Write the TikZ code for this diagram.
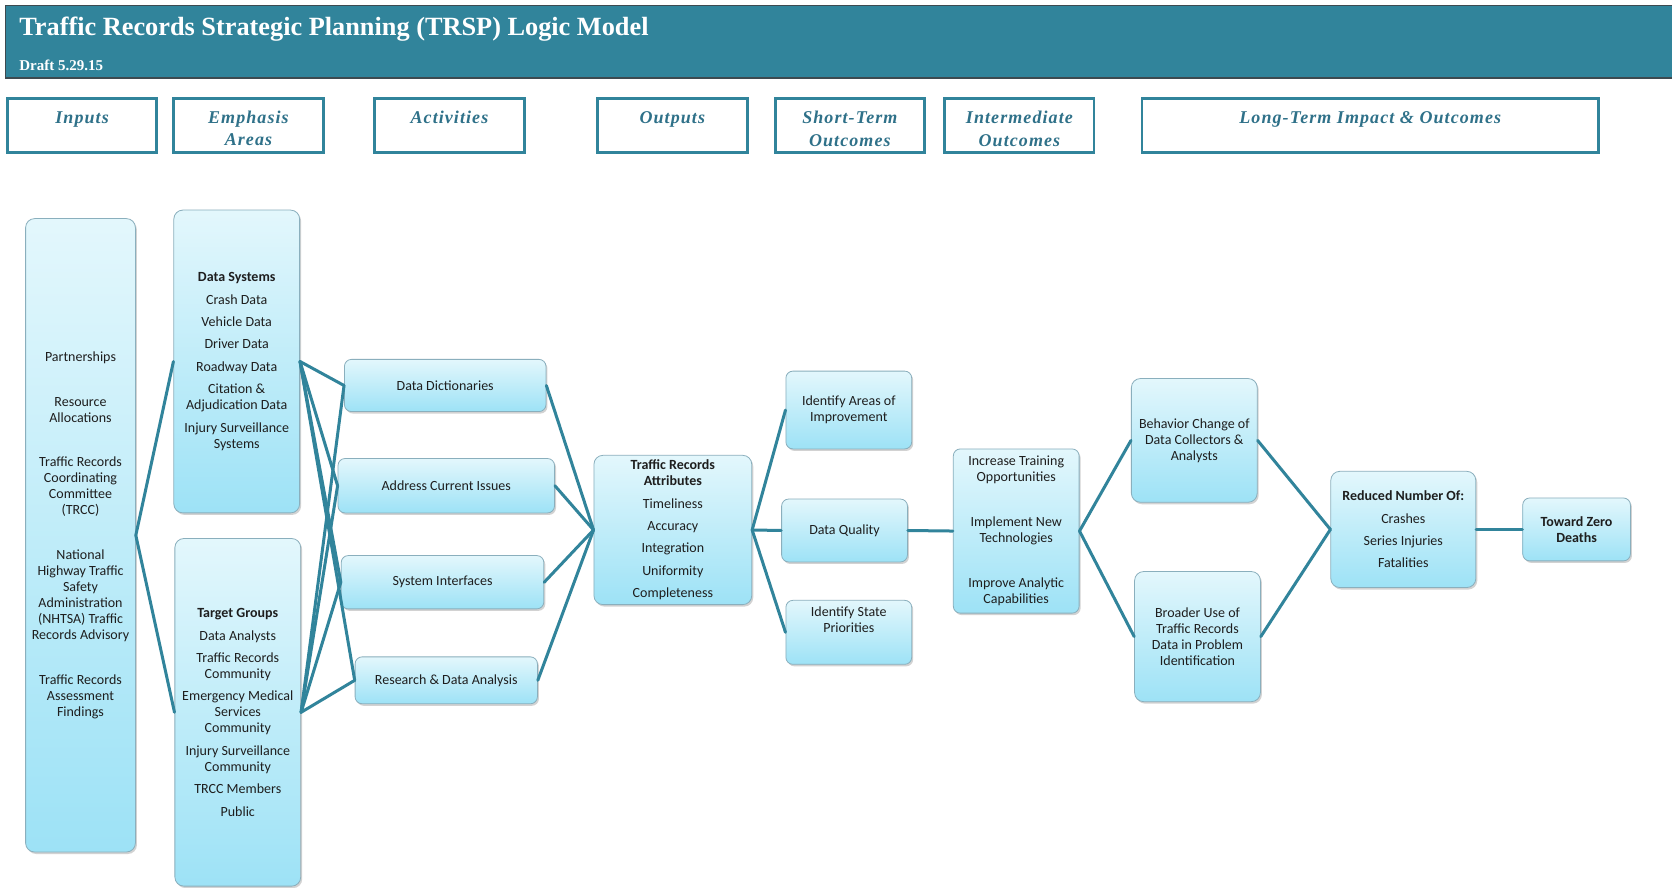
\documentclass[tikz,border=0pt]{standalone}
\usepackage{fontspec}
\setmainfont{Carlito}
\newfontfamily\hdrfont[LetterSpace=6]{Liberation Serif}
\newfontfamily\ttlfont{Liberation Serif}
\usetikzlibrary{shadows}
\definecolor{teal1}{HTML}{31849B}
\definecolor{hdrtext}{HTML}{2F7189}
\definecolor{bandedge}{HTML}{3D4A50}
\definecolor{boxtop}{HTML}{E3F7FC}
\definecolor{boxbot}{HTML}{9DE2F6}
\definecolor{boxedge}{HTML}{8AAFBD}
\definecolor{bodytext}{HTML}{1E1E1E}
\newcommand{\hup}{\rule{0pt}{18.5pt}}
\begin{document}
\begin{tikzpicture}[x=1.0663pt,y=-1.0663pt,
  rbox/.style={rounded corners=7pt, draw=boxedge, line width=0.8pt,
    top color=boxtop, bottom color=boxbot, align=center, inner sep=2pt,
    text=bodytext, font=\fontsize{14}{16}\selectfont,
    drop shadow={opacity=0.35, shadow xshift=1.5pt, shadow yshift=-2pt}},
  hdr/.style={draw=teal1, line width=2.8pt, fill=white, align=center,
    minimum height=54pt, text=hdrtext, inner sep=1pt,
    font=\hdrfont\bfseries\itshape\fontsize{18}{22.4}\selectfont},
  conn/.style={draw=teal1, line width=3pt, line cap=round, line join=round}]
\useasboundingbox (0,0) rectangle (1568,832);
\fill[white] (0,0) rectangle (1568,832);
% banner
\draw[fill=teal1, draw=bandedge, line width=1.5pt] (5,5) rectangle (1572,73);
\node[anchor=base west, text=white, inner sep=0, font=\ttlfont\bfseries\fontsize{26.3}{30}\selectfont] (title) at (18,33) {Traffic Records Strategic Planning (TRSP) Logic Model};
\node[anchor=base west, text=white, inner sep=0, font=\ttlfont\bfseries\fontsize{15}{18}\selectfont] (draft) at (18,66) {Draft 5.29.15};
% headers
\node[hdr, minimum width=149.3pt] (hin) at (77,117.5) {\hup Inputs\\\mbox{}};
\node[hdr, minimum width=149.3pt] (hem) at (233,117.5) {\hup Emphasis\\Areas};
\node[hdr, minimum width=150.3pt] (hac) at (421.5,118) {\hup Activities\\\mbox{}};
\node[hdr, minimum width=150.3pt] (hou) at (630.5,118) {\hup Outputs\\\mbox{}};
\node[hdr, minimum width=149.3pt] (hst) at (797,118) {\hup Short-Term\\Outcomes};
\node[hdr, minimum width=149.3pt] (hit) at (956,118) {\hup Intermediate\\Outcomes};
\node[hdr, minimum width=456.4pt] (hlt) at (1285,118) {\hup Long-Term Impact \& Outcomes\\\mbox{}};
% boxes
\node[rbox, minimum width=109.8pt, minimum height=633.4pt, rounded corners=9pt] (inputs) at (75.5,502)
 {Partnerships\\[28.8pt] Resource\\Allocations\\[28.8pt] Traffic Records\\Coordinating\\Committee\\(TRCC)\\[28.8pt] National\\Highway Traffic\\Safety\\Administration\\(NHTSA) Traffic\\Records Advisory\\[28.8pt] Traffic Records\\Assessment\\Findings};
\node[rbox, minimum width=125.8pt, minimum height=302.8pt, rounded corners=9pt] (dsys) at (222,339)
 {\textbf{Data Systems}\\[6.4pt] Crash Data\\[6.4pt] Vehicle Data\\[6.4pt] Driver Data\\[6.4pt] Roadway Data\\[6.4pt] Citation \&\\ Adjudication Data\\[6.4pt] Injury Surveillance\\ Systems};
\node[rbox, minimum width=125.8pt, minimum height=347.6pt, rounded corners=9pt] (tgrp) at (223,668)
 {\textbf{Target Groups}\\[6.4pt] Data Analysts\\[6.4pt] Traffic Records\\Community\\[6.4pt] Emergency Medical\\Services\\Community\\[6.4pt] Injury Surveillance\\Community\\[6.4pt] TRCC Members\\[6.4pt] Public};
\node[rbox, minimum width=201.5pt, minimum height=52.2pt] (dd) at (417.5,361.5) {Data Dictionaries};
\node[rbox, minimum width=216.5pt, minimum height=54.4pt] (aci) at (418.5,455.5) {Address Current Issues};
\node[rbox, minimum width=202.6pt, minimum height=53.3pt] (si) at (415,546) {System Interfaces};
\node[rbox, minimum width=182.3pt, minimum height=46.9pt] (rda) at (418.5,638) {Research \& Data Analysis};
\node[rbox, minimum width=157.8pt, minimum height=149.3pt, rounded corners=9pt] (tra) at (631,497)
 {\textbf{Traffic Records}\\\textbf{Attributes}\\[6.4pt] Timeliness\\[6.4pt] Accuracy\\[6.4pt] Integration\\[6.4pt] Uniformity\\[6.4pt] Completeness};
\node[rbox, minimum width=125.8pt, minimum height=77.8pt] (iai) at (796,384.5) {Identify Areas of\\Improvement};
\node[rbox, minimum width=125.8pt, minimum height=62.9pt] (dq) at (792,497.5) {Data Quality};
\node[rbox, minimum width=125.8pt, minimum height=64pt] (isp) at (796,593) {Identify State\\Priorities\\[10pt]\mbox{}};
\node[rbox, minimum width=125.8pt, minimum height=164.2pt] (inter) at (953,498)
 {Increase Training\\Opportunities\\[28.8pt] Implement New\\Technologies\\[28.8pt] Improve Analytic\\Capabilities};
\node[rbox, minimum width=125.8pt, minimum height=123.7pt, rounded corners=9pt] (beh) at (1120,413) {Behavior Change of\\Data Collectors \&\\Analysts};
\node[rbox, minimum width=125.8pt, minimum height=130.1pt, rounded corners=9pt] (bro) at (1123,597) {Broader Use of\\Traffic Records\\Data in Problem\\Identification};
\node[rbox, minimum width=145pt, minimum height=116.2pt, rounded corners=9pt] (red) at (1316,496.5)
 {\textbf{Reduced Number Of:}\\[6.4pt] Crashes\\[6.4pt] Series Injuries\\[6.4pt] Fatalities};
\node[rbox, minimum width=107.7pt, minimum height=62.9pt] (tzd) at (1478.5,496.5) {\textbf{Toward Zero}\\\textbf{Deaths}};
% connectors
\draw[conn] (inputs.east) -- (dsys.west);
\draw[conn] (inputs.east) -- (tgrp.west);
\foreach \s in {dsys,tgrp}{\foreach \t in {dd,aci,si,rda}{\draw[conn] (\s.east) -- (\t.west);}}
\foreach \t in {dd,aci,si,rda}{\draw[conn] (\t.east) -- (tra.west);}
\foreach \t in {iai,dq,isp}{\draw[conn] (tra.east) -- (\t.west);}
\draw[conn] (dq.east) -- (inter.west);
\draw[conn] (inter.east) -- (beh.west);
\draw[conn] (inter.east) -- (bro.west);
\draw[conn] (beh.east) -- (red.west);
\draw[conn] (bro.east) -- (red.west);
\draw[conn] (red.east) -- (tzd.west);
\end{tikzpicture}
\end{document}
